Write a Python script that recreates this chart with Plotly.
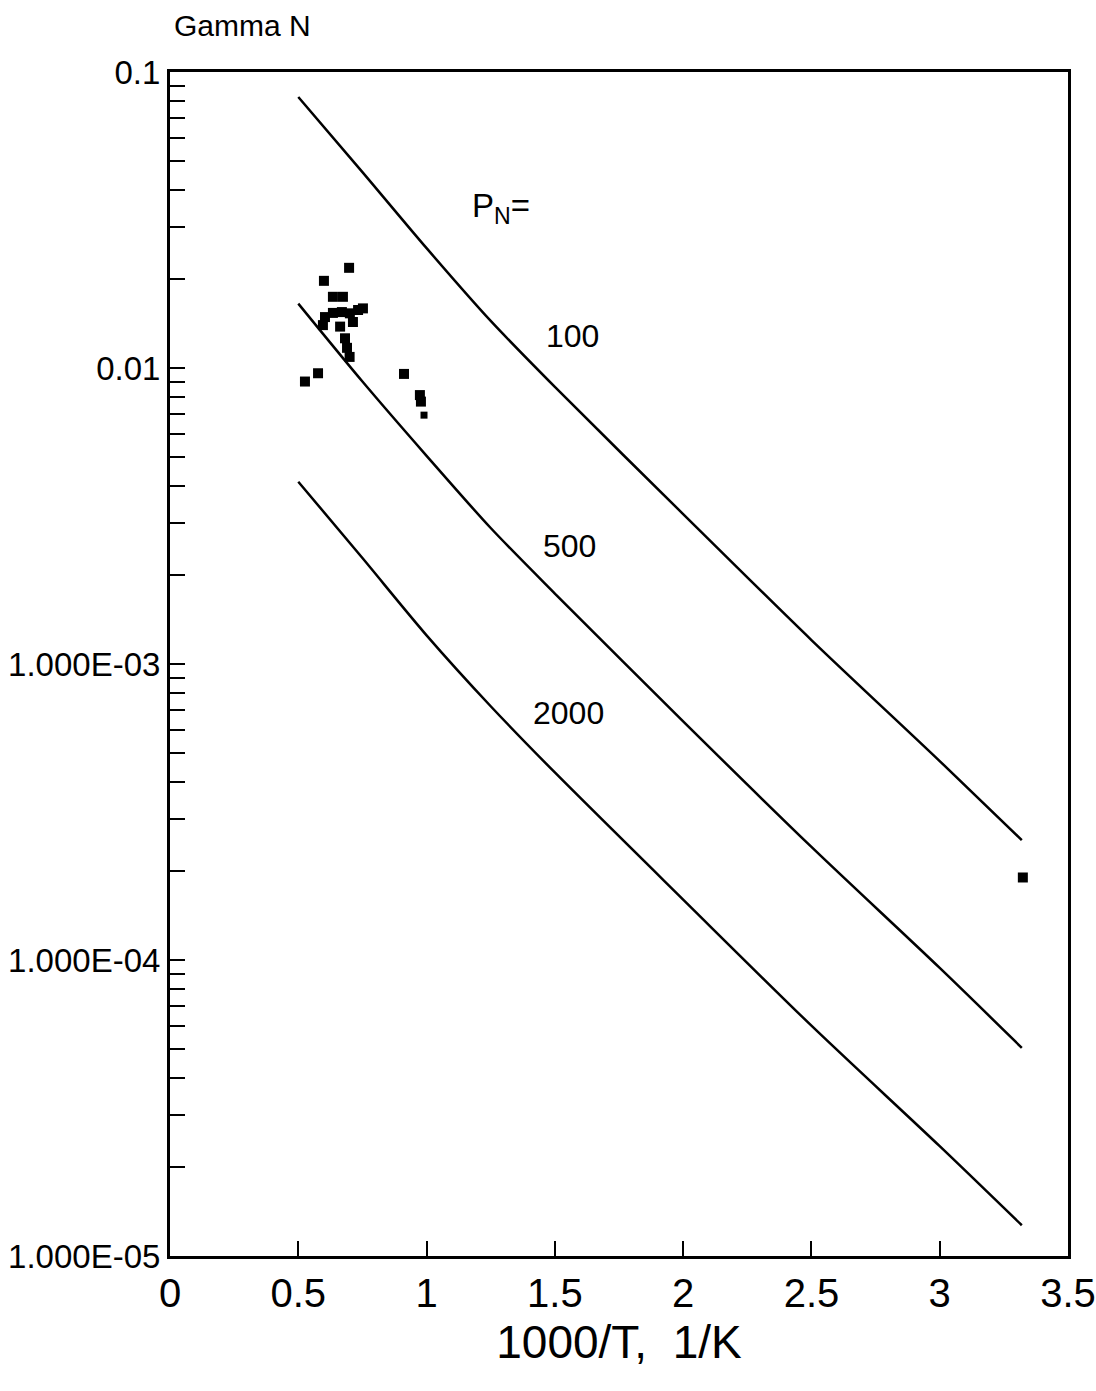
import plotly.graph_objects as go

# Inverse temperature, 1000/T in 1/K, where the curves are sampled
inv_t = [0.5, 0.75, 1.0, 1.25, 1.5, 2.0, 2.5, 3.0, 3.32]

# Gamma N along each constant-P_N curve
gamma_p100 = [0.0823, 0.0459, 0.0254, 0.01442, 0.00863, 0.00321, 0.001205, 4.70e-4, 2.54e-4]
gamma_p500 = [0.0165, 0.0090, 0.00505, 0.00288, 0.00173, 6.4e-4, 2.41e-4, 9.4e-5, 5.05e-5]
gamma_p2000 = [0.00413, 0.00228, 0.00125, 7.2e-4, 4.3e-4, 1.6e-4, 6.0e-5, 2.35e-5, 1.27e-5]

curve_labels = ["100", "500", "2000"]

# Measured points
meas_x = [0.698, 0.600, 0.635, 0.674, 0.604, 0.635, 0.670, 0.701, 0.733, 0.752,
          0.596, 0.663, 0.713, 0.682, 0.690, 0.700, 0.577, 0.526, 0.912, 0.974,
          0.978, 3.324]
meas_y = [0.0218, 0.0197, 0.0174, 0.0174, 0.01486, 0.01535, 0.01545, 0.0153, 0.0157, 0.0159,
          0.01396, 0.0138, 0.0143, 0.0126, 0.0117, 0.0109, 0.0096, 0.0090, 0.00955, 0.0081,
          0.0077, 1.9e-4]
small_x = [0.990]
small_y = [0.00693]

# Left-axis tick values and labels
decade_vals = [1e-5, 1e-4, 1e-3, 1e-2, 1e-1]
decade_text = ["1.000E-05", "1.000E-04", "1.000E-03", "0.01", "0.1"]
x_tick_vals = [0, 0.5, 1, 1.5, 2, 2.5, 3, 3.5]
x_tick_text = ["0", "0.5", "1", "1.5", "2", "2.5", "3", "3.5"]

FONT = "Liberation Sans Narrow, Liberation Sans, Arial, sans-serif"

# unlabelled 2..9 ticks inside each decade
minor_vals = [d * m for d in decade_vals[:-1] for m in range(2, 10)]

fig = go.Figure()
for g in (gamma_p100, gamma_p500, gamma_p2000):
    fig.add_trace(go.Scatter(x=inv_t, y=g, mode="lines",
                             line=dict(color="black", width=2.5, shape="spline", smoothing=0.8),
                             showlegend=False, hoverinfo="skip"))

fig.add_trace(go.Scatter(x=meas_x, y=meas_y, mode="markers",
                         marker=dict(symbol="square", size=10, color="black"),
                         showlegend=False))
fig.add_trace(go.Scatter(x=small_x, y=small_y, mode="markers",
                         marker=dict(symbol="square", size=7, color="black"),
                         showlegend=False))

# curve labels
label_pos = [(1.567, -1.892), (1.559, -2.601), (1.555, -3.166)]
for txt, (lx, ly) in zip(curve_labels, label_pos):
    fig.add_annotation(x=lx, y=ly, xref="x", yref="y", text=txt, showarrow=False,
                       font=dict(family=FONT, size=32, color="black"))

fig.add_annotation(x=1.29, y=-1.46, xref="x", yref="y", text="P<sub>N</sub>=",
                   showarrow=False, font=dict(family=FONT, size=33, color="black"))

fig.add_annotation(x=0, y=1, xref="paper", yref="paper", xanchor="left", yanchor="bottom",
                   xshift=2, yshift=28, text="Gamma N", showarrow=False,
                   font=dict(family=FONT, size=30, color="black"))

fig.update_xaxes(range=[0, 3.5], tickvals=x_tick_vals, ticktext=x_tick_text,
                 ticks="inside", ticklen=15, tickwidth=2, tickcolor="black",
                 showline=True, linewidth=3, linecolor="black", mirror=True,
                 showgrid=False, zeroline=False, automargin=False,
                 tickfont=dict(family=FONT, size=40, color="black"),
                 title=dict(text="1000/T,  1/K", standoff=12,
                            font=dict(family=FONT, size=46, color="black")))

fig.update_yaxes(type="log", range=[-5, -1], tickvals=decade_vals, ticktext=decade_text,
                 ticks="inside", ticklen=15, tickwidth=2, tickcolor="black",
                 minor=dict(tickvals=minor_vals, ticks="inside", ticklen=15,
                            tickwidth=2, tickcolor="black", showgrid=False),
                 showline=True, linewidth=3, linecolor="black", mirror=True,
                 showgrid=False, zeroline=False, automargin=False,
                 tickfont=dict(family=FONT, size=33, color="black"))

fig.update_layout(width=1096, height=1391,
                  margin=dict(l=170, r=28, t=72, b=135),
                  plot_bgcolor="white", paper_bgcolor="white")

fig.write_html("out.html")
